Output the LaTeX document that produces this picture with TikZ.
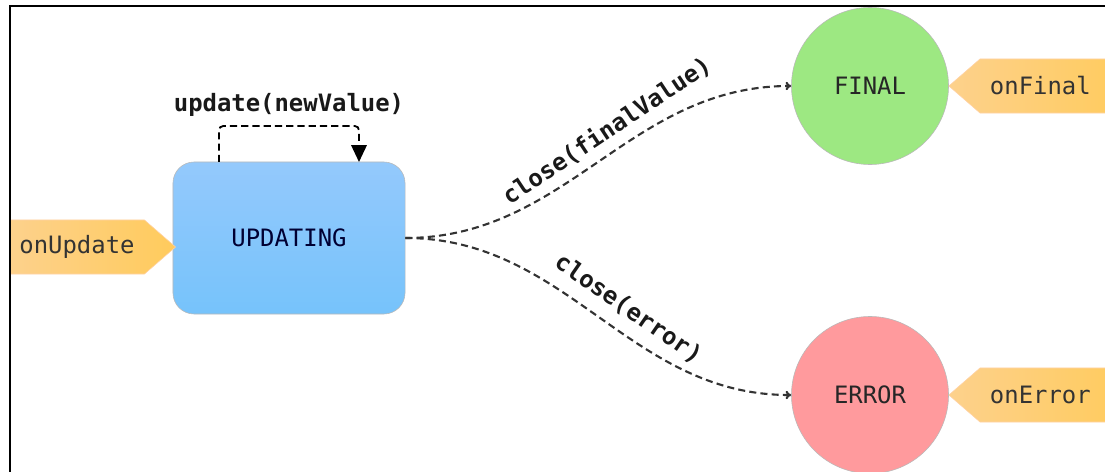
\documentclass[tikz,border=0pt]{standalone}
\usepackage{fontspec}
\setmonofont{DejaVu Sans Mono}
\usetikzlibrary{arrows.meta,shapes.symbols}

\definecolor{updblueA}{HTML}{94C9FC}
\definecolor{updblueB}{HTML}{76C3FB}
\definecolor{finalgreen}{HTML}{9DE882}
\definecolor{errorred}{HTML}{FF9A9D}
\definecolor{hookA}{HTML}{FDD18C}
\definecolor{hookB}{HTML}{FFCB5C}

\begin{document}
\begin{tikzpicture}[x=0.025cm,y=-0.025cm,
	every node/.style={font=\fontsize{17}{20}\selectfont\ttfamily},
	state/.style={draw=gray!55,thin,rounded corners=15pt,minimum width=5.8cm,minimum height=3.8cm,top color=updblueA,bottom color=updblueB,text=blue!20!black},
	endstate/.style={draw=gray!55,thin,circle,minimum size=3.925cm,inner sep=0pt,text=black!85},
	hook/.style={signal,signal pointer angle=82,draw=orange!35,left color=hookA,right color=hookB,minimum height=1.35cm,inner sep=0pt,text=black!80},
	hookright/.style={hook,signal to=west,text width=3.25cm,align=left,inner xsep=0.25cm},
	trans/.style={dash pattern=on 5pt off 3pt,line width=1.5pt,draw=black!80,-{To[length=4pt,width=6pt]}},
	selfloop/.style={dash pattern=on 5pt off 3pt,line width=1.3pt,rounded corners=3pt,-{Triangle[length=12pt,width=11pt]}},
	lbl/.style={font=\fontsize{17}{20}\selectfont\ttfamily\bfseries,text=black!90}]
	\useasboundingbox (0,0) rectangle (1105,472);

	\begin{scope}
		\clip (10,6) rectangle (1105,472);
		% states
		\node[state] (upd) at (289,238){UPDATING};
		\node[endstate,fill=finalgreen] (fin) at (870,86){FINAL};
		\node[endstate,fill=errorred] (err) at (870,395){ERROR};
		% callbacks
		\node[hook,signal to=east,minimum width=4.15cm] (onupd) at (77,247){onUpdate};
		\node[hookright] (onfin) at (1055,86){onFinal};
		\node[hookright] (onerr) at (1055,395){onError};
		% transitions
		\coordinate (loopA) at (219,162);
		\coordinate (loopB) at (359,162);
		\draw[selfloop] (loopA) -- (219,126) -- node[lbl,above=3pt]{update(newValue)} (359,126) -- (loopB);
		\draw[trans] (upd.east) to[out=0,in=180] node[lbl,sloped,above=3pt,pos=0.56]{close(finalValue)} (fin.west);
		\draw[trans] (upd.east) to[out=0,in=180] node[lbl,sloped,above=5pt,pos=0.55]{close(error)} (err.west);
	\end{scope}

	% frame
	\draw[line width=1.5pt] (10,472) -- (10,6) -- (1105,6);
\end{tikzpicture}
\end{document}
